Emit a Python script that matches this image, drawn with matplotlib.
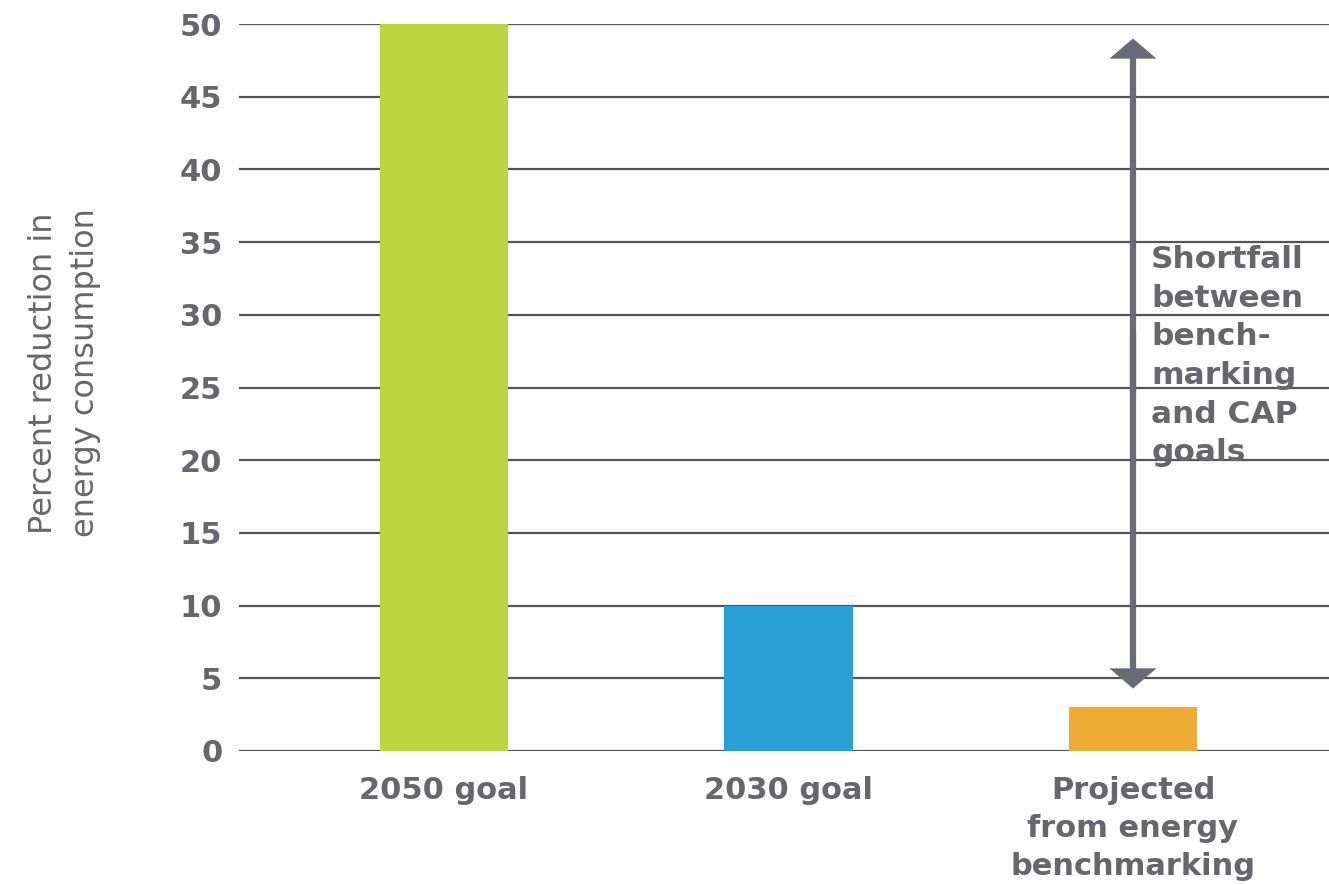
import matplotlib
matplotlib.use("Agg")
import matplotlib.pyplot as plt

categories = ["2050 goal", "2030 goal", "Projected\nfrom energy\nbenchmarking"]
values = [50, 10, 3]
colors = ["#BDD63F", "#2A9FD5", "#EFAB33"]
yticks = [0, 5, 10, 15, 20, 25, 30, 35, 40, 45, 50]
arrow_top = 49
arrow_bottom = 4.3
annotation = "Shortfall\nbetween\nbench-\nmarking\nand CAP\ngoals"
ylabel = "Percent reduction in\nenergy consumption"

gray = "#66666C"
fig = plt.figure(figsize=(13.29, 8.85), dpi=100)
ax = fig.add_axes([239/1329, 1 - 751/885, (1329-239)/1329, (751-24)/885])
x = list(range(len(categories)))
ax.bar(x, values, width=0.372, color=colors, zorder=3)
ax.set_xlim(-0.595, 2.569)
ax.set_ylim(0, 50)
ax.set_yticks(yticks)
ax.yaxis.grid(True, color="#555555", linewidth=1.6, zorder=1)
ax.set_axisbelow(True)
for s in ax.spines.values():
    s.set_visible(False)
ax.tick_params(axis="y", length=0, pad=12, labelsize=22, labelcolor=gray)
ax.tick_params(axis="x", length=0, pad=18, labelsize=22, labelcolor=gray)
for lab in ax.get_yticklabels():
    lab.set_fontweight("bold")
ax.set_xticks(x)
ax.set_xticklabels(categories, fontweight="bold", linespacing=1.4)
ax.set_ylabel(ylabel, fontsize=23, color=gray, linespacing=1.45)
ax.yaxis.set_label_coords(-0.127, 0.52)

mid = (arrow_top + arrow_bottom) / 2
style = "simple,head_length=1.45,head_width=3.4,tail_width=0.45"
for end, start in ((arrow_top, mid - 2), (arrow_bottom, mid + 2)):
    ax.annotate("", xy=(2, end), xytext=(2, start),
                arrowprops=dict(arrowstyle=style, color="#6A6A74", lw=0,
                                shrinkA=0, shrinkB=0, mutation_scale=10),
                zorder=5)
ax.text(2.053, 34.8, annotation, fontsize=22.5, fontweight="bold", color=gray,
        ha="left", va="top", linespacing=1.42, zorder=5)

fig.savefig("out.png", dpi=100, facecolor="white")
